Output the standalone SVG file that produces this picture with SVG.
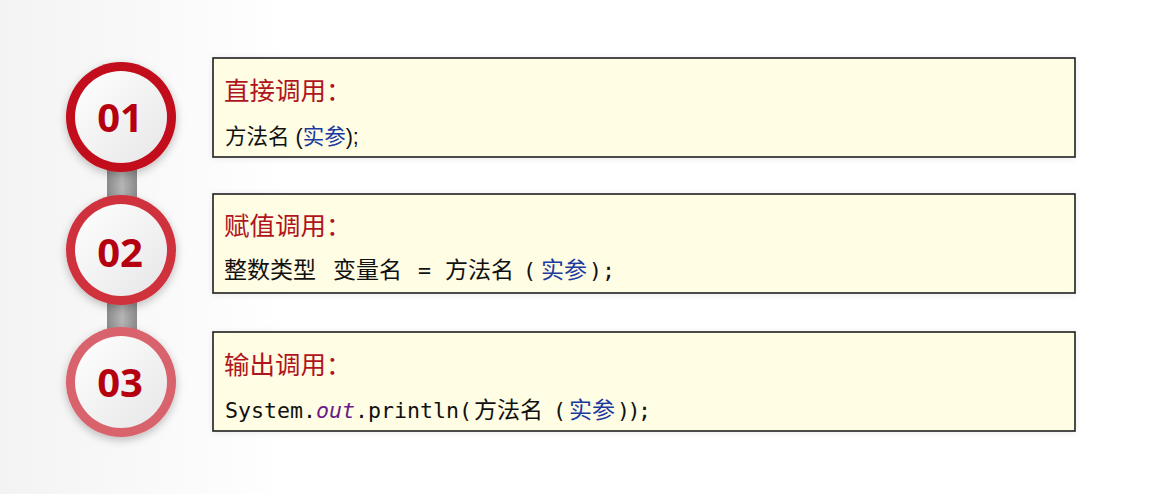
<svg xmlns="http://www.w3.org/2000/svg" width="1154" height="494" viewBox="0 0 1154 494">
  <defs>
    <style>
      .box { fill: #fffde4; stroke: #1e1e1e; stroke-width: 1.6; }
      .title { font-family: "Noto Sans CJK SC", "Liberation Sans", sans-serif; font-size: 25.5px; fill: #b0141c; }
      .body { font-family: "Liberation Sans", "Noto Sans CJK SC", sans-serif; font-size: 21.5px; fill: #111; }
      .mono { font-family: "DejaVu Sans Mono", "Noto Sans CJK SC", monospace; font-size: 21.6px; fill: #111; }
      .cjk { font-family: "Noto Sans CJK SC", sans-serif; font-size: 23px; }
      .arg { fill: #1c3aa0; }
      .kw { fill: #6a1a8a; font-style: italic; }
      .num { font-family: "Open Sans", "Liberation Sans", sans-serif; font-weight: bold; font-size: 40px; fill: #b5000f; text-anchor: middle; }
      .disc { fill: url(#discGrad); }
    </style>
    <linearGradient id="bgGrad" x1="0" y1="0" x2="1" y2="0">
      <stop offset="0" stop-color="#f3f3f3"/>
      <stop offset="0.25" stop-color="#ffffff"/>
      <stop offset="1" stop-color="#ffffff"/>
    </linearGradient>
    <linearGradient id="barGrad" x1="0" y1="0" x2="1" y2="0">
      <stop offset="0" stop-color="#8a8a8a"/>
      <stop offset="0.5" stop-color="#b5b5b5"/>
      <stop offset="1" stop-color="#8a8a8a"/>
    </linearGradient>
    <linearGradient id="discGrad" x1="0" y1="0" x2="1" y2="1">
      <stop offset="0" stop-color="#ffffff"/>
      <stop offset="1" stop-color="#e6e6e8"/>
    </linearGradient>
    <filter id="shadow" x="-30%" y="-30%" width="160%" height="160%">
      <feDropShadow dx="0" dy="3" stdDeviation="4" flood-color="#000" flood-opacity="0.25"/>
    </filter>
    <filter id="boxShadow" x="-5%" y="-20%" width="110%" height="140%">
      <feDropShadow dx="0" dy="1" stdDeviation="3" flood-color="#000" flood-opacity="0.08"/>
    </filter>
  </defs>

  <rect x="0" y="0" width="1154" height="494" fill="url(#bgGrad)"/>

  <g id="connectors">
    <rect x="107" y="150" width="30" height="250" fill="url(#barGrad)"/>
  </g>

  <g id="node-01">
    <circle cx="121" cy="117" r="55" fill="#c2101c" filter="url(#shadow)"/>
    <circle cx="121" cy="117" r="46" class="disc"/>
    <text x="120" y="132" class="num">01</text>
  </g>

  <g id="node-02">
    <circle cx="121" cy="250" r="55" fill="#d0323d" filter="url(#shadow)"/>
    <circle cx="121" cy="250" r="46" class="disc"/>
    <text x="120" y="267" class="num">02</text>
  </g>

  <g id="node-03">
    <circle cx="121" cy="382" r="55" fill="#d9646c" filter="url(#shadow)"/>
    <circle cx="121" cy="382" r="46" class="disc"/>
    <text x="120" y="397" class="num">03</text>
  </g>

  <g id="box-1">
    <rect x="213" y="58" width="862" height="99" class="box" filter="url(#boxShadow)"/>
    <text x="224" y="100" class="title">直接调用：</text>
    <text x="225" y="144" class="body">方法名 (<tspan class="arg">实参</tspan>);</text>
  </g>

  <g id="box-2">
    <rect x="213" y="194" width="862" height="99" class="box" filter="url(#boxShadow)"/>
    <text x="224" y="235" class="title">赋值调用：</text>
    <text y="278" class="mono"><tspan x="224" class="cjk">整数类型</tspan><tspan x="333" class="cjk">变量名</tspan><tspan x="418">=</tspan><tspan x="445" class="cjk">方法名</tspan><tspan x="523">(</tspan><tspan x="541" class="cjk arg">实参</tspan><tspan x="589">);</tspan></text>
  </g>

  <g id="box-3">
    <rect x="213" y="332" width="862" height="99" class="box" filter="url(#boxShadow)"/>
    <text x="224" y="374" class="title">输出调用：</text>
    <text y="418" class="mono"><tspan x="225">System.</tspan><tspan class="kw">out</tspan><tspan>.println(</tspan><tspan x="474" class="cjk">方法名</tspan><tspan x="553">(</tspan><tspan x="569" class="cjk arg">实参</tspan><tspan x="617" letter-spacing="-2.5">));</tspan></text>
  </g>
</svg>
